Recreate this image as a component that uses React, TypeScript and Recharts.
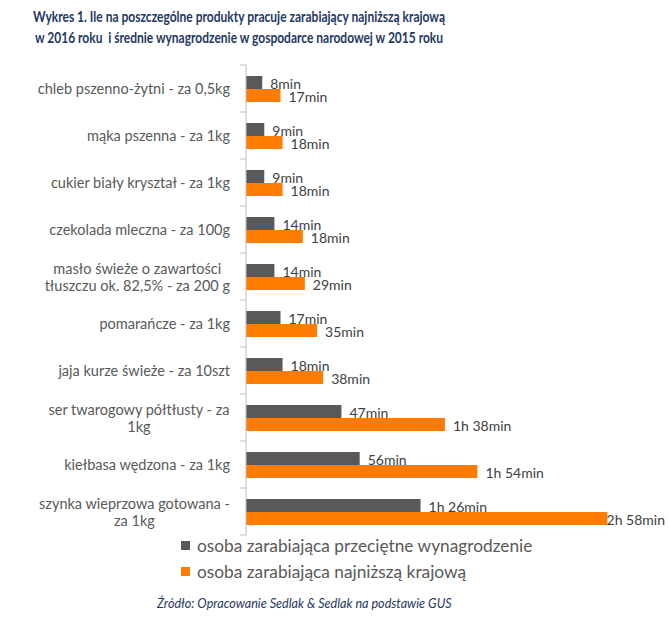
import React from 'react';
import { BarChart, Bar, XAxis, YAxis, LabelList } from 'recharts';

const categories = [
  'chleb pszenno-żytni - za 0,5kg',
  'mąka pszenna - za 1kg',
  'cukier biały kryształ - za 1kg',
  'czekolada mleczna - za 100g',
  'masło świeże o zawartości\ntłuszczu ok. 82,5% - za 200 g',
  'pomarańcze - za 1kg',
  'jaja kurze świeże - za 10szt',
  'ser twarogowy półtłusty - za\n1kg',
  'kiełbasa wędzona - za 1kg',
  'szynka wieprzowa gotowana -\nza 1kg',
];
const averageWageMinutes = [8, 9, 9, 14, 14, 17, 18, 47, 56, 86];
const minimumWageMinutes = [17, 18, 18, 28, 29, 35, 38, 98, 114, 178];
const averageWageLabels = ['8min', '9min', '9min', '14min', '14min', '17min', '18min', '47min', '56min', '1h 26min'];
const minimumWageLabels = ['17min', '18min', '18min', '18min', '29min', '35min', '38min', '1h 38min', '1h 54min', '2h 58min'];
const seriesNames = ['osoba zarabiająca przeciętne wynagrodzenie', 'osoba zarabiająca najniższą krajową'];
const titleLines = [
  'Wykres 1. Ile na poszczególne produkty pracuje zarabiający najniższą krajową',
  'w 2016 roku  i średnie wynagrodzenie w gospodarce narodowej w 2015 roku',
];
const sourceText = 'Źródło: Opracowanie Sedlak & Sedlak na podstawie GUS';

const DARK = '#595959';
const ORANGE = '#FF7C00';
const TEXT = '#595959';
const FONT = 'Lato, "Open Sans", sans-serif';
const CAT_FONT_SIZE = 14.5;
const LABEL_FONT_SIZE = 14;

const CHART_W = 669;
const CHART_H = 540;
const MARGIN = { top: 65, right: 17, bottom: 5, left: 0 };
const Y_AXIS_W = 246;
const PLOT_H = CHART_H - MARGIN.top - MARGIN.bottom;
const TICK_SIZE = 6;
const TICK_MARGIN = 10;

const data = categories.map((name, i) => ({
  name,
  avg: averageWageMinutes[i],
  min: minimumWageMinutes[i],
  avgLabel: averageWageLabels[i],
  minLabel: minimumWageLabels[i],
}));

let ctx: any = null;
const measure = (text: string, font: string) => {
  if (!ctx) ctx = document.createElement('canvas').getContext('2d');
  ctx.font = font;
  return ctx.measureText(text).width;
};

function CategoryTick(props: any) {
  const { x, y, payload, index } = props;
  const lines = String(payload.value).split('\n');
  const font = `${CAT_FONT_SIZE}px Lato`;
  const widths = lines.map((l: string) => measure(l, font));
  const maxW = Math.max(...widths);
  const lh = 17;
  const startY = y - ((lines.length - 1) * lh) / 2;
  const axisX = x + TICK_SIZE + TICK_MARGIN;
  const half = PLOT_H / categories.length / 2;
  return (
    <g>
      <line x1={axisX - TICK_SIZE} x2={axisX} y1={y - half} y2={y - half} stroke="#BFBFBF" />
      {index === categories.length - 1 && (
        <line x1={axisX - TICK_SIZE} x2={axisX} y1={y + half} y2={y + half} stroke="#BFBFBF" />
      )}
      {lines.map((l: string, i: number) => (
        <text
          key={i}
          x={lines.length > 1 ? x - maxW / 2 : x}
          y={startY + i * lh}
          textAnchor={lines.length > 1 ? 'middle' : 'end'}
          dominantBaseline="central"
          fontFamily={FONT}
          fontSize={CAT_FONT_SIZE}
          fill={TEXT}
        >
          {l}
        </text>
      ))}
    </g>
  );
}

function ValueLabel(props: any) {
  const { x, y, width, height, value } = props;
  const font = `${LABEL_FONT_SIZE}px Lato`;
  const w = measure(String(value), font);
  let tx = Number(x) + Number(width) + 8;
  if (tx + w > CHART_W - 4) tx = CHART_W - 4 - w;
  return (
    <text
      x={tx}
      y={Number(y) + Number(height) / 2 + 1}
      dominantBaseline="central"
      fontFamily={FONT}
      fontSize={LABEL_FONT_SIZE}
      fill="#404040"
    >
      {value}
    </text>
  );
}

function ChartLegend() {
  const colors = [DARK, ORANGE];
  return (
    <div
      style={{
        position: 'absolute',
        left: 181,
        top: 532,
        fontFamily: FONT,
        fontSize: 17.3,
        color: TEXT,
      }}
    >
      {seriesNames.map((n, i) => (
        <div key={n} style={{ display: 'flex', alignItems: 'center', height: 26, whiteSpace: 'pre' }}>
          <span style={{ display: 'inline-block', width: 9, height: 9, background: colors[i], marginRight: 7 }} />
          <span>{n}</span>
        </div>
      ))}
    </div>
  );
}

function Title() {
  const widths = [412, 408];
  const centers = [239, 239];
  const ys = [16, 37];
  return (
    <svg width={669} height={50} style={{ position: 'absolute', left: 0, top: 0 }}>
      {titleLines.map((t, i) => (
        <text
          key={t}
          x={centers[i]}
          y={ys[i]}
          textAnchor="middle"
          dominantBaseline="central"
          fontFamily={FONT}
          fontWeight="bold"
          fontSize={14.2}
          fill="#1F3864"
          textLength={widths[i]}
          lengthAdjust="spacingAndGlyphs"
          style={{ whiteSpace: 'pre' }}
        >
          {t}
        </text>
      ))}
    </svg>
  );
}

export default function App() {
  return (
    <div style={{ position: 'absolute', left: 0, top: 0, width: 669, height: 619, background: '#fff' }}>
      <Title />
      <BarChart
        width={CHART_W}
        height={CHART_H}
        data={data}
        layout="vertical"
        margin={MARGIN}
        barSize={13}
        barGap={0}
      >
        <XAxis type="number" domain={[0, 200]} hide />
        <YAxis
          type="category"
          dataKey="name"
          width={Y_AXIS_W}
          axisLine={{ stroke: '#BFBFBF' }}
          tickLine={false}
          tickSize={TICK_SIZE}
          tickMargin={TICK_MARGIN}
          tick={<CategoryTick />}
          interval={0}
        />
        <Bar dataKey="avg" name={seriesNames[0]} fill={DARK} isAnimationActive={false}>
          <LabelList dataKey="avgLabel" content={<ValueLabel />} />
        </Bar>
        <Bar dataKey="min" name={seriesNames[1]} fill={ORANGE} isAnimationActive={false}>
          <LabelList dataKey="minLabel" content={<ValueLabel />} />
        </Bar>
      </BarChart>
      <ChartLegend />
      <div
        style={{
          position: 'absolute',
          left: 157,
          top: 596,
          fontFamily: FONT,
          fontStyle: 'italic',
          fontSize: 12.6,
          color: '#1F3864',
          whiteSpace: 'pre',
        }}
      >
        {sourceText}
      </div>
    </div>
  );
}
